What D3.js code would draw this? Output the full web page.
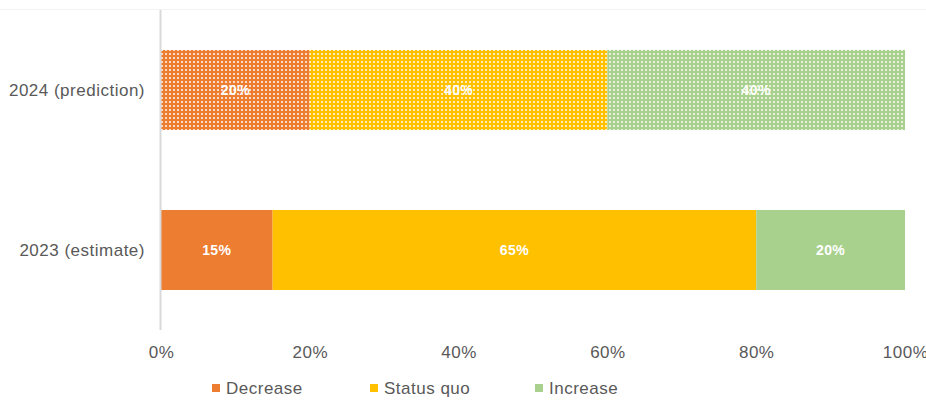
<!DOCTYPE html>
<style>
body { margin: 0; background: #fff; }
text { font-family: "Liberation Sans", Arial, sans-serif; }
</style>
<svg width="926" height="400"></svg>
<script src="https://d3js.org/d3.v7.min.js"></script>
<script>
var categories = ["2024 (prediction)", "2023 (estimate)"];
var seriesNames = ["Decrease", "Status quo", "Increase"];
var decrease = [20, 15];
var statusQuo = [40, 65];
var increase = [40, 20];
var ticks = [0, 20, 40, 60, 80, 100];

var colors = ["#ED7D31", "#FFC000", "#A9D18E"];
var patterned = [true, false];

var svg = d3.select("svg");

var x = d3.scaleLinear().domain([0, 100]).range([161, 905]);
var y = d3.scaleBand().domain(categories).range([10, 330]).paddingInner(0.5).paddingOuter(0.25);

// dotted pattern fills
var defs = svg.append("defs");
colors.forEach(function(c, i) {
  var p = defs.append("pattern")
      .attr("id", "pat" + i)
      .attr("patternUnits", "userSpaceOnUse")
      .attr("width", 4).attr("height", 4);
  p.append("rect").attr("width", 4).attr("height", 4).attr("fill", c);
  p.append("rect").attr("x", 1).attr("y", 1).attr("width", 2).attr("height", 2)
      .attr("fill", "#fff").attr("opacity", 0.7);
});

// faint top line
svg.append("line")
    .attr("x1", 0).attr("x2", 926).attr("y1", 9.5).attr("y2", 9.5)
    .attr("stroke", "#f2f2f2");

var rows = categories.map(function(c, i) {
  var vals = [decrease[i], statusQuo[i], increase[i]];
  var start = 0;
  return vals.map(function(v, j) {
    var seg = {cat: c, row: i, series: j, x0: start, x1: start + v, v: v};
    start += v;
    return seg;
  });
});

var segs = [].concat.apply([], rows);

svg.append("g").selectAll("rect")
  .data(segs)
  .enter().append("rect")
    .attr("x", function(d) { return x(d.x0); })
    .attr("width", function(d) { return x(d.x1) - x(d.x0); })
    .attr("y", function(d) { return y(d.cat); })
    .attr("height", y.bandwidth())
    .attr("fill", function(d) { return patterned[d.row] ? "url(#pat" + d.series + ")" : colors[d.series]; });

svg.append("g").selectAll("text")
  .data(segs)
  .enter().append("text")
    .attr("x", function(d) { return (x(d.x0) + x(d.x1)) / 2; })
    .attr("y", function(d) { return y(d.cat) + y.bandwidth() / 2; })
    .attr("dy", "0.35em")
    .attr("text-anchor", "middle")
    .attr("fill", "#fff")
    .attr("font-weight", "bold")
    .attr("font-size", 14)
    .attr("letter-spacing", 0.4)
    .text(function(d) { return d.v + "%"; });

// vertical axis line
svg.append("line")
    .attr("x1", 160.5).attr("x2", 160.5).attr("y1", 10).attr("y2", 330)
    .attr("stroke", "#d9d9d9").attr("stroke-width", 2);

// category labels
svg.append("g").selectAll("text")
  .data(categories)
  .enter().append("text")
    .attr("x", 145)
    .attr("y", function(d) { return y(d) + y.bandwidth() / 2; })
    .attr("dy", "0.35em")
    .attr("text-anchor", "end")
    .attr("fill", "#595959")
    .attr("font-size", 17)
    .attr("letter-spacing", 0.5)
    .text(function(d) { return d; });

// x tick labels
var xAxis = svg.append("g")
    .attr("transform", "translate(0,343)")
    .call(d3.axisBottom(x).tickValues(ticks).tickSize(0).tickFormat(function(d) { return d + "%"; }));
xAxis.select(".domain").remove();
xAxis.selectAll("text")
    .attr("fill", "#595959")
    .attr("font-size", 17)
    .attr("letter-spacing", 0.5)
    .style("font-family", "'Liberation Sans', Arial, sans-serif");

// legend
var legendX = [212, 370, 535];
var legend = svg.append("g").selectAll("g")
  .data(seriesNames)
  .enter().append("g")
    .attr("transform", function(d, i) { return "translate(" + legendX[i] + ",388)"; });
legend.append("rect")
    .attr("x", 0).attr("y", -4).attr("width", 8).attr("height", 8)
    .attr("fill", function(d, i) { return colors[i]; });
legend.append("text")
    .attr("x", 14)
    .attr("dy", "0.35em")
    .attr("fill", "#595959")
    .attr("font-size", 17)
    .attr("letter-spacing", 0.5)
    .text(function(d) { return d; });
</script>
